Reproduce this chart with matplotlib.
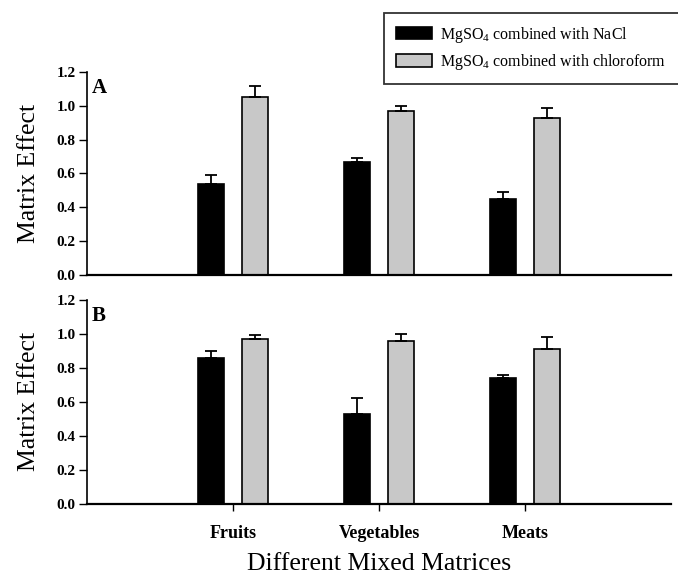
import matplotlib
matplotlib.use("Agg")
import matplotlib.pyplot as plt
import numpy as np
from matplotlib.patches import Patch

plt.rcParams['font.family'] = ['Liberation Serif', 'DejaVu Serif']
plt.rcParams['mathtext.fontset'] = 'custom'
plt.rcParams['mathtext.rm'] = 'Liberation Serif'

categories = ["Fruits", "Vegetables", "Meats"]
series_names = ["MgSO$_4$ combined with NaCl", "MgSO$_4$ combined with chloroform"]

# panel A
a_nacl = [0.54, 0.67, 0.45]
a_nacl_err = [0.05, 0.02, 0.04]
a_chcl3 = [1.05, 0.97, 0.93]
a_chcl3_err = [0.07, 0.03, 0.06]

# panel B
b_nacl = [0.86, 0.53, 0.74]
b_nacl_err = [0.04, 0.09, 0.02]
b_chcl3 = [0.97, 0.96, 0.91]
b_chcl3_err = [0.02, 0.04, 0.07]

colors = ["black", "#c8c8c8"]
width = 0.18
offset = 0.15

fig = plt.figure(figsize=(6.78, 5.81), dpi=100)
ax_a = fig.add_axes([0.128, 0.527, 0.862, 0.349])
ax_b = fig.add_axes([0.128, 0.133, 0.862, 0.351])

x = np.arange(len(categories))


def draw_panel(ax, v1, e1, v2, e2, letter, show_x):
    err_kw = dict(ecolor="black", elinewidth=1.3, capsize=4.5, capthick=1.3)
    ax.bar(x - offset, v1, width, color=colors[0], edgecolor="black", linewidth=1.2,
           yerr=[np.zeros(len(v1)), e1], error_kw=err_kw, zorder=2)
    ax.bar(x + offset, v2, width, color=colors[1], edgecolor="black", linewidth=1.2,
           yerr=[np.zeros(len(v2)), e2], error_kw=err_kw, zorder=2)
    ax.set_xlim(-1, 3)
    ax.set_ylim(0, 1.2)
    ticks = np.arange(0, 1.21, 0.2)
    ax.set_yticks(ticks)
    ax.set_yticklabels(["%.1f" % t for t in ticks], fontsize=11, fontweight="bold")
    ax.spines["top"].set_visible(False)
    ax.spines["right"].set_visible(False)
    ax.spines["left"].set_linewidth(1.2)
    ax.spines["bottom"].set_linewidth(1.6)
    ax.tick_params(axis="y", direction="out", length=6, width=1, pad=2)
    if show_x:
        ax.set_xticks(x)
        ax.set_xticklabels(categories, fontsize=13, fontweight="bold")
        ax.tick_params(axis="x", direction="out", length=5, width=1, pad=10)
    else:
        ax.set_xticks([])
    ax.set_ylabel("Matrix Effect", fontsize=18.5, labelpad=12)
    ax.text(0.009, 0.97, letter, transform=ax.transAxes, fontsize=15,
            fontweight="bold", va="top", ha="left")


draw_panel(ax_a, a_nacl, a_nacl_err, a_chcl3, a_chcl3_err, "A", False)
draw_panel(ax_b, b_nacl, b_nacl_err, b_chcl3, b_chcl3_err, "B", True)
ax_b.set_xlabel("Different Mixed Matrices", fontsize=18.5, labelpad=8)

handles = [Patch(facecolor=c, edgecolor="black", linewidth=1.2) for c in colors]
leg = fig.legend(handles, series_names, loc="upper left",
                 bbox_to_anchor=(0.566, 0.978), fontsize=11.5, frameon=True,
                 fancybox=False, edgecolor="black", handlelength=2.3,
                 handleheight=0.8, handletextpad=0.5, borderpad=0.75,
                 labelspacing=0.45, borderaxespad=0)
leg.get_frame().set_linewidth(1.3)

fig.savefig("out.png", dpi=100)
